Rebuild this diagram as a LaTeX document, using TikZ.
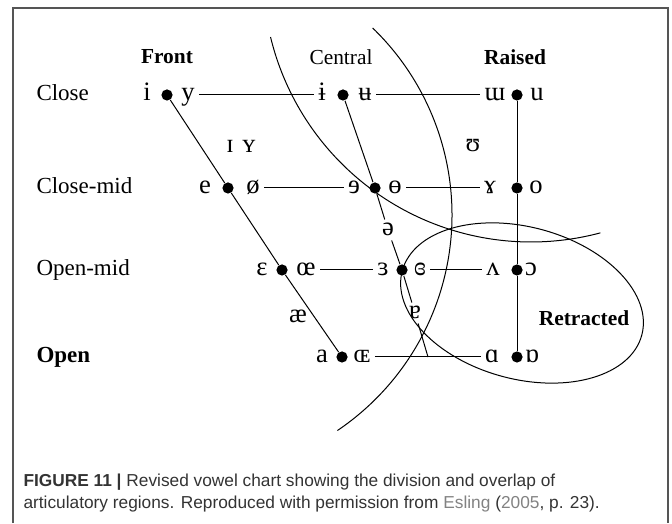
\documentclass[tikz,border=0pt]{standalone}
\usepackage{fontspec}
\setmainfont{Liberation Serif}
\setsansfont{Liberation Sans}
\definecolor{framegray}{RGB}{85,85,85}
\definecolor{capgray}{RGB}{51,51,51}
\definecolor{citegray}{RGB}{130,130,130}

\tikzset{
  vowel/.style={font=\fontsize{13.3}{13}\selectfont, text height=6pt, text depth=0pt, inner sep=2pt},
  vdot/.style={circle, fill=black, inner sep=0pt, minimum size=5.6pt},
  rowlabel/.style={anchor=west, font=\fontsize{11.5}{12}\selectfont, text height=6pt, text depth=0pt, inner sep=0pt},
  colhead/.style={font=\fontsize{10.7}{12}\selectfont}
}

\begin{document}
\begin{tikzpicture}[x=0.5pt, y=0.5pt, line width=0.5pt]
  \useasboundingbox (0,0) rectangle (672,523);
  \draw[framegray, line width=1pt] (13,0) -- (13,515) -- (668,515) -- (668,0);

  \node[colhead] (front) at (167,466) {\textbf{Front}};
  \node[colhead] (central) at (341,466) {Central};
  \node[colhead] (raised) at (515,466) {\textbf{Raised}};

  \begin{scope}[shift={(0,428)}]
    \node[rowlabel] (close) at (36,0) {Close};
    \node[vowel] (vI) at (147,0) {i};
    \node[vdot] (dI) at (167,0) {};
    \node[vowel] (vY) at (188,0) {y};
    \node[vowel] (vIbar) at (322,0) {ɨ};
    \node[vdot] (dIbar) at (343,0) {};
    \node[vowel] (vUbar) at (365,0) {ʉ};
    \node[vowel] (vTurnM) at (495,0) {ɯ};
    \node[vdot] (dU) at (517,0) {};
    \node[vowel] (vU) at (537,0) {u};
  \end{scope}
  \begin{scope}[shift={(0,335)}]
    \node[rowlabel] (closemid) at (36,0) {Close-mid};
    \node[vowel] (vE) at (205,0) {e};
    \node[vdot] (dE) at (228,0) {};
    \node[vowel] (vOslash) at (253,0) {ø};
    \node[vowel] (vRevE) at (354,0) {ɘ};
    \node[vdot] (dRevE) at (375,0) {};
    \node[vowel] (vBarO) at (395,0) {ɵ};
    \node[vowel] (vRamsHorn) at (490,0) {ɤ};
    \node[vdot] (dO) at (517,0) {};
    \node[vowel] (vO) at (536,0) {o};
  \end{scope}
  \begin{scope}[shift={(0,253)}]
    \node[rowlabel] (openmid) at (36,0) {Open-mid};
    \node[vowel] (vEps) at (262,0) {ɛ};
    \node[vdot] (dEps) at (282,0) {};
    \node[vowel] (vOE) at (306,0) {œ};
    \node[vowel] (vRevEps) at (383,0) {ɜ};
    \node[vdot] (dRevEps) at (402,0) {};
    \node[vowel] (vClRevEps) at (420,0) {ɞ};
    \node[vowel] (vTurnV) at (493,0) {ʌ};
    \node[vdot] (dOpenO) at (517,0) {};
    \node[vowel] (vOpenO) at (531,0) {ɔ};
  \end{scope}
  \begin{scope}[shift={(0,166)}]
    \node[rowlabel] (open) at (36,0) {\textbf{Open}};
    \node[vowel] (vA) at (322,0) {a};
    \node[vdot] (dA) at (342,0) {};
    \node[vowel] (vSmOE) at (362,0) {ɶ};
    \node[vowel] (vScrA) at (492,0) {ɑ};
    \node[vdot] (dScrA) at (517,0) {};
    \node[vowel] (vTurnScrA) at (532,0) {ɒ};
    \coordinate (openEnd) at (428,0);
  \end{scope}

  \node[vowel] (smIY) at (241,376) {ɪ\hspace{4.3pt}ʏ};
  \node[vowel] (vUpsilon) at (473,377) {ʊ};
  \node[vowel] (schwa) at (388,293) {ə};
  \node[vowel] (vAsh) at (298,206) {æ};
  \node[vowel] (turnA) at (415,210) {ɐ};
  \node[colhead] (retracted) at (584,205) {\textbf{Retracted}};

  % rows
  \draw (vY) -- (vIbar);
  \draw (vUbar) -- (vTurnM);
  \draw (vOslash) -- (vRevE);
  \draw (vBarO) -- (vRamsHorn);
  \draw (vOE) -- (vRevEps);
  \draw (vClRevEps) -- (vTurnV);
  \draw (vSmOE) -- (vScrA);
  % columns
  \draw (dI) -- (dE) -- (dEps) -- (dA);
  \draw (dIbar) -- (dRevE) -- (schwa) -- (dRevEps) -- (turnA) -- (openEnd);
  \draw (dU) -- (dO) -- (dOpenO) -- (dScrA);

  % regions
  \draw ([shift={(193.6:268)}]531,549) arc[start angle=193.6, end angle=285, radius=268];
  \draw ([shift={(46:260)}]192,308) arc[start angle=46, end angle=-56, radius=260];
  \draw[rotate around={-15:(522,220)}] (522,220) ellipse[x radius=124, y radius=76];

  \node[anchor=west, align=left, inner sep=0pt, text=capgray,
    font=\sffamily\fontsize{8.65}{11.2}\selectfont] (caption) at (23,30)
    {\textbf{FIGURE 11 |} Revised vowel chart showing the division and overlap of\\
     articulatory regions. Reproduced with permission from \textcolor{citegray}{Esling} (\textcolor{citegray}{2005}, p. 23).};
\end{tikzpicture}
\end{document}
